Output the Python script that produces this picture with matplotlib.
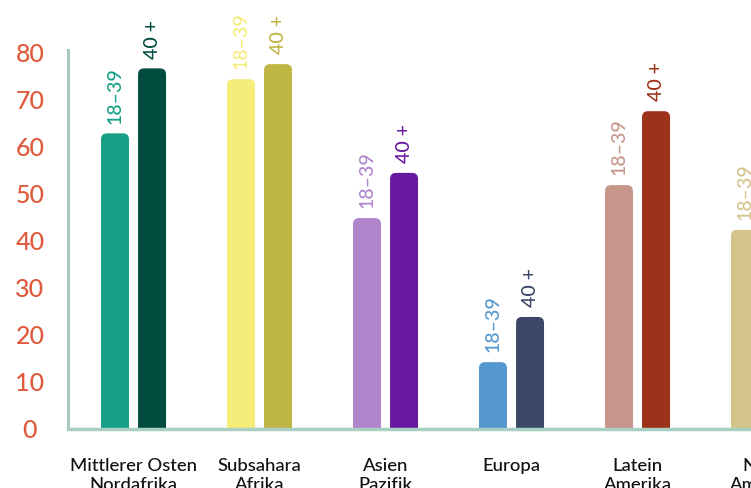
import matplotlib
matplotlib.use("Agg")
import matplotlib.pyplot as plt
from matplotlib.patches import FancyBboxPatch
import numpy as np

plt.rcParams['font.family'] = ['Lato', 'DejaVu Sans']

categories = ["Mittlerer Osten\nNordafrika", "Subsahara\nAfrika", "Asien\nPazifik",
              "Europa", "Latein\nAmerika", "Nord\nAmerika"]
young = [62.8, 74.3, 44.8, 14.2, 51.8, 42.3]
old = [76.6, 77.5, 54.4, 23.8, 67.5, 60.0]
series_labels = ["18–39", "40 +"]
young_colors = ["#18a086", "#f5ec7a", "#b085cc", "#5598cf", "#c6968b", "#d4c48a"]
old_colors = ["#004d3f", "#bfb544", "#68189e", "#3b4766", "#9c321a", "#a08a3a"]
yticks = [0, 10, 20, 30, 40, 50, 60, 70, 80]

W, H = 751, 488
fig = plt.figure(figsize=(W / 100, H / 100), dpi=100)
x0_px, y0_px, ytop_px = 68, 429, 50
px_per_unit_x = 126
xlim = (-0.52, 5.52)
ax_w_px = (xlim[1] - xlim[0]) * px_per_unit_x
ax = fig.add_axes([x0_px / W, (H - y0_px) / H, ax_w_px / W, (y0_px - ytop_px) / H])
ax.set_xlim(*xlim)
ax.set_ylim(0, 80.5)

x = np.arange(len(categories))
bw = 0.222
off = 0.147
b1 = ax.bar(x - off, young, bw, color=young_colors)
b2 = ax.bar(x + off, old, bw, color=old_colors)

ppy = (y0_px - ytop_px) / 80.5
r_px = 6
for bars in (b1, b2):
    for rect in bars:
        rx, ry = rect.get_x(), rect.get_y()
        rw, rh = rect.get_width(), rect.get_height()
        col = rect.get_facecolor()
        rect.remove()
        p = FancyBboxPatch((rx, ry - 5), rw, rh + 5,
                           boxstyle=f"round,pad=0,rounding_size={r_px / px_per_unit_x}",
                           mutation_aspect=(1 / ppy) / (1 / px_per_unit_x),
                           facecolor=col, edgecolor='none', zorder=2)
        ax.add_patch(p)

for i in range(len(categories)):
    ax.annotate(series_labels[0], (x[i] - off, young[i]), xytext=(0, 7),
                textcoords='offset points', rotation=90, ha='center', va='bottom',
                color=young_colors[i], fontsize=14, fontweight='medium',
                annotation_clip=False)
    ax.annotate(series_labels[1], (x[i] + off, old[i]), xytext=(0, 7),
                textcoords='offset points', rotation=90, ha='center', va='bottom',
                color=old_colors[i], fontsize=14, fontweight='medium',
                annotation_clip=False)

ax.set_yticks(yticks)
ax.set_yticklabels([str(v) for v in yticks], color="#e05a3c", fontsize=18,
                   fontweight='medium', ha='center')
ax.tick_params(axis='y', length=0, pad=27.4)
ax.set_xticks(x)
ax.set_xticklabels(categories, fontsize=13.3, color="#111111", linespacing=1.25,
                   fontweight='medium')
ax.tick_params(axis='x', length=0, pad=21)

for s in ['top', 'right']:
    ax.spines[s].set_visible(False)
ax.spines['left'].set_color("#a9c9c4")
ax.spines['left'].set_linewidth(2.2)
ax.spines['bottom'].set_color("#a9cfc3")
ax.spines['bottom'].set_linewidth(2.5)
ax.spines['bottom'].set_zorder(3)

fig.savefig("out.png", dpi=100)
